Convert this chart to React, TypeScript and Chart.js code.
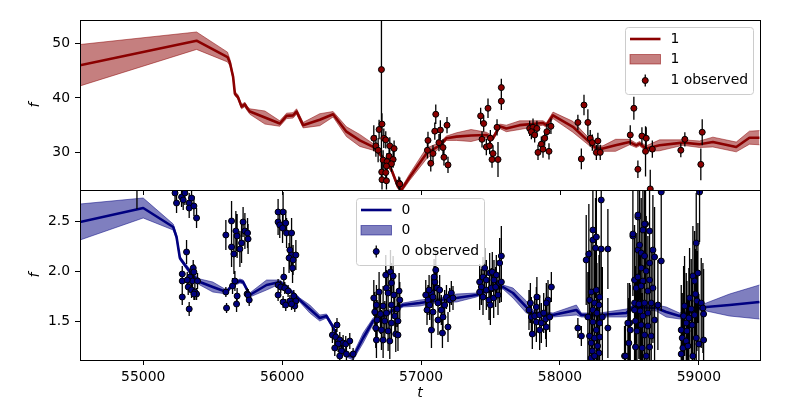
import { useEffect, useRef } from 'react';
import { Chart, registerables } from 'chart.js';

Chart.register(...registerables);

// ---------- axis ticks ----------
const X_TICKS = [55000, 56000, 57000, 58000, 59000];
const TOP_TICKS = [30, 40, 50];
const BOT_TICKS = [1.5, 2.0, 2.5];

// ---------- series "1" (top panel) model ----------
const redModelT = [54545, 55384, 55607, 55624, 55647, 55660, 55681, 55708, 55732, 55748,
  55768, 55876, 55983, 56032, 56079, 56104, 56151, 56271, 56367, 56463,
  56559, 56655, 56690, 56787, 56834, 56861, 56919, 57039, 57134, 57183,
  57255, 57360, 57470, 57518, 57566, 57614, 57710, 57878, 57902, 57950,
  58093, 58262, 58309, 58400, 58501, 58549, 58573, 58621, 58717, 58885,
  59005, 59101, 59269, 59364, 59436];
const redModelF = [46.0, 50.5, 47.5, 46.5, 43.9, 40.8, 40.2, 38.4, 38.8, 38.1,
  37.5, 36.4, 35.3, 36.7, 36.8, 37.5, 35.0, 36.0, 37.0, 33.8,
  32.2, 31.0, 30.2, 26.8, 23.7, 23.2, 25.5, 29.8, 31.3, 32.6,
  32.9, 33.1, 33.2, 32.6, 34.8, 34.4, 35.0, 35.4, 35.0, 36.8,
  34.7, 30.7, 30.7, 31.3, 31.9, 31.3, 31.6, 30.7, 31.3, 31.8,
  31.5, 31.9, 31.0, 32.7, 32.7];
const redModelW = [3.8, 1.6, 0.9, 0.6, 0.4, 0.4, 0.4, 0.4, 0.4, 0.4,
  0.5, 1.2, 0.5, 0.5, 0.5, 0.5, 0.5, 1.1, 0.5, 0.9,
  1.1, 0.6, 0.4, 0.4, 0.4, 0.4, 0.6, 1.0, 0.5, 0.4,
  0.7, 1.1, 0.5, 0.4, 0.4, 0.6, 0.8, 0.4, 0.4, 0.6,
  1.0, 0.5, 0.5, 1.1, 0.5, 0.4, 0.4, 0.5, 1.0, 0.5,
  0.6, 0.9, 0.9, 1.2, 1.3];

// observed [t, f, err]
const redObs: [number, number, number][] = [
  [56715, 45.2, 20], [56719, 35.2, 2.0], [56698, 34.2, 1.8], [56660, 32.6, 2.4], [56732, 32.6, 1.8],
  [56746, 32.3, 1.6], [56675, 31.2, 2.0], [56691, 30.4, 2.2], [56775, 31.2, 1.6], [56806, 30.7, 1.5],
  [56770, 29.3, 1.6], [56727, 28.6, 1.8], [56799, 28.7, 1.5], [56755, 28.3, 1.6], [56787, 27.9, 1.5],
  [56751, 27.5, 1.6], [56717, 26.4, 1.8], [56746, 26.3, 1.6], [56719, 25.0, 1.8], [56751, 24.8, 1.6],
  [56840, 24.4, 1.2], [56847, 24.2, 1.2], [57050, 32.2, 1.6], [57046, 30.4, 1.5], [57070, 28.0, 1.5],
  [57086, 29.8, 1.5], [57106, 37.0, 1.8], [57099, 33.9, 1.6], [57139, 34.1, 1.8], [57129, 31.8, 1.6],
  [57158, 30.9, 1.5], [57165, 29.1, 1.5], [57194, 27.7, 1.5], [57187, 35.0, 1.5], [57429, 36.7, 1.5],
  [57451, 35.3, 1.5], [57482, 38.1, 1.8], [57439, 32.4, 1.5], [57470, 31.0, 1.5], [57494, 31.2, 1.5],
  [57499, 32.6, 1.5], [57518, 29.8, 1.5], [57511, 28.7, 1.5], [57554, 28.7, 3.2], [57547, 34.6, 1.5],
  [57578, 39.4, 1.6], [57578, 41.9, 1.6], [57782, 34.4, 1.4], [57806, 34.6, 1.6], [57834, 34.4, 1.4],
  [57794, 33.8, 1.4], [57818, 33.2, 1.4], [57906, 33.8, 1.4], [57935, 34.8, 1.4], [57890, 32.6, 1.4],
  [57866, 31.5, 1.4], [57878, 30.6, 1.6], [57842, 30.0, 1.4], [57921, 30.2, 1.5], [58129, 35.5, 1.4],
  [58173, 38.7, 1.9], [58201, 35.5, 2.4], [58218, 32.6, 1.5], [58233, 31.8, 1.5], [58273, 32.1, 1.5],
  [58262, 30.0, 1.4], [58290, 30.0, 1.4], [58154, 28.8, 1.9], [58532, 38.1, 2.1], [58506, 33.2, 1.8],
  [58590, 33.0, 1.6], [58621, 32.6, 2.0], [58616, 30.2, 4.6], [58665, 30.6, 1.6], [58561, 26.9, 1.6],
  [58650, 23.3, 3.5], [58870, 30.4, 1.3], [58899, 32.4, 1.3], [59024, 33.7, 2.4], [59014, 27.8, 2.9],
];

// ---------- series "0" (bottom panel) model ----------
const blueModelT = [54545, 55000, 55216, 55240, 55264, 55300, 55360, 55408, 55501, 55600,
  55647, 55696, 55719, 55767, 55888, 55983, 56032, 56127, 56199, 56271,
  56319, 56367, 56415, 56463, 56511, 56583, 56655, 56870, 56991, 57134,
  57255, 57398, 57494, 57590, 57662, 57758, 57806, 57950, 58118, 58154,
  58286, 58478, 58525, 58693, 58765, 58861, 59005, 59053, 59221, 59436];
const blueModelF = [2.49, 2.63, 2.44, 2.34, 2.13, 2.06, 1.95, 1.89, 1.84, 1.79,
  1.87, 1.90, 1.89, 1.76, 1.86, 1.89, 1.84, 1.71, 1.62, 1.53,
  1.55, 1.44, 1.28, 1.16, 1.14, 1.33, 1.50, 1.66, 1.68, 1.71,
  1.73, 1.76, 1.81, 1.84, 1.78, 1.64, 1.58, 1.56, 1.61, 1.56,
  1.56, 1.58, 1.64, 1.63, 1.59, 1.55, 1.63, 1.64, 1.66, 1.69];
const blueModelW = [0.18, 0.10, 0.03, 0.02, 0.02, 0.02, 0.03, 0.03, 0.05, 0.02,
  0.02, 0.02, 0.02, 0.02, 0.05, 0.02, 0.02, 0.02, 0.04, 0.03,
  0.02, 0.02, 0.02, 0.02, 0.03, 0.05, 0.03, 0.02, 0.03, 0.02,
  0.04, 0.02, 0.02, 0.02, 0.05, 0.06, 0.03, 0.02, 0.05, 0.02,
  0.02, 0.04, 0.02, 0.03, 0.05, 0.03, 0.02, 0.04, 0.11, 0.17];

const blueObs: [number, number, number][] = [
  [54955, 2.9, 0.28],
  // ~55300
  [55229, 2.78, 0.1], [55240, 2.68, 0.1], [55276, 2.74, 0.1], [55288, 2.71, 0.1], [55300, 2.78, 0.12],
  [55331, 2.68, 0.1], [55331, 2.63, 0.1], [55365, 2.65, 0.1], [55384, 2.53, 0.1], [55348, 2.73, 0.1],
  [55312, 2.19, 0.12], [55281, 1.97, 0.08], [55281, 1.90, 0.08], [55281, 1.74, 0.08], [55331, 1.62, 0.07],
  [55360, 2.03, 0.08], [55365, 1.99, 0.08], [55336, 1.94, 0.08], [55355, 1.90, 0.08], [55391, 1.90, 0.08],
  [55324, 1.84, 0.08], [55348, 1.81, 0.08], [55372, 1.79, 0.08], [55384, 1.77, 0.06], [55365, 1.77, 0.06],
  [55317, 1.91, 0.08],
  // ~55650
  [55595, 2.36, 0.15], [55636, 2.50, 0.2], [55667, 2.40, 0.2], [55676, 2.35, 0.22], [55636, 2.24, 0.2],
  [55653, 2.17, 0.2], [55696, 2.22, 0.18], [55719, 2.49, 0.15], [55732, 2.40, 0.18], [55751, 2.38, 0.15],
  [55755, 2.32, 0.15], [55708, 2.28, 0.2], [55595, 1.79, 0.05], [55600, 1.63, 0.05], [55643, 1.85, 0.08],
  [55660, 1.90, 0.1], [55676, 1.75, 0.08], [55672, 1.67, 0.08], [55748, 1.77, 0.06], [55755, 1.76, 0.06],
  [55763, 1.71, 0.06],
  // ~56050
  [55971, 2.59, 0.13], [56007, 2.59, 0.2], [55971, 2.49, 0.13], [55983, 2.46, 0.13], [56026, 2.48, 0.13],
  [56003, 2.43, 0.15], [56032, 2.38, 0.15], [56068, 2.38, 0.15], [56056, 2.21, 0.17], [56068, 2.16, 0.17],
  [56099, 2.16, 0.15], [56050, 2.13, 0.15], [56079, 2.11, 0.15], [56075, 2.03, 0.15], [56012, 1.94, 0.1],
  [55971, 1.86, 0.06], [55990, 1.84, 0.06], [56019, 1.83, 0.06], [55971, 1.76, 0.06], [56043, 1.80, 0.06],
  [56007, 1.69, 0.06], [56026, 1.66, 0.06], [56056, 1.70, 0.06], [56084, 1.75, 0.06], [56099, 1.70, 0.06],
  [56091, 1.65, 0.06], [56068, 1.67, 0.06],
  // ~56450
  [56395, 1.46, 0.07], [56362, 1.36, 0.08], [56386, 1.34, 0.08], [56415, 1.31, 0.08], [56439, 1.28, 0.08],
  [56403, 1.27, 0.08], [56458, 1.27, 0.08], [56487, 1.30, 0.08], [56379, 1.23, 0.08], [56427, 1.20, 0.08],
  [56463, 1.17, 0.08], [56511, 1.17, 0.06], [56415, 1.15, 0.08],
  // ~56750
  [56746, 1.96, 0.2], [56780, 1.99, 0.22], [56799, 1.95, 0.2], [56787, 1.88, 0.2], [56751, 1.83, 0.18],
  [56660, 1.73, 0.18], [56698, 1.79, 0.2], [56763, 1.78, 0.2], [56804, 1.76, 0.2], [56842, 1.80, 0.18],
  [56847, 1.71, 0.18], [56679, 1.66, 0.2], [56727, 1.65, 0.2], [56787, 1.66, 0.2], [56828, 1.62, 0.18],
  [56667, 1.59, 0.2], [56708, 1.57, 0.2], [56751, 1.58, 0.2], [56811, 1.55, 0.2], [56684, 1.51, 0.2],
  [56739, 1.50, 0.2], [56787, 1.48, 0.2], [56834, 1.50, 0.18], [56674, 1.43, 0.2], [56715, 1.41, 0.2],
  [56763, 1.40, 0.2], [56818, 1.37, 0.18], [56679, 1.31, 0.18], [56727, 1.31, 0.18], [56775, 1.30, 0.18],
  [56834, 1.36, 0.16],
  // ~57100
  [57034, 1.76, 0.15], [57050, 1.71, 0.15], [57062, 1.66, 0.15], [57075, 1.78, 0.15], [57086, 1.74, 0.15],
  [57099, 1.89, 0.18], [57106, 2.01, 0.2], [57094, 1.94, 0.18], [57115, 1.83, 0.15], [57134, 1.81, 0.15],
  [57122, 1.68, 0.15], [57146, 1.61, 0.15], [57158, 1.54, 0.15], [57075, 1.41, 0.18], [57122, 1.51, 0.15],
  [57154, 1.38, 0.15], [57194, 1.44, 0.15], [57183, 1.74, 0.12], [57206, 1.71, 0.12], [57218, 1.78, 0.12],
  [57230, 1.73, 0.12], [57170, 1.66, 0.15], [57086, 1.59, 0.15], [57043, 1.61, 0.15], [57058, 1.81, 0.15],
  // ~57500
  [57422, 1.89, 0.18], [57446, 1.94, 0.2], [57458, 2.03, 0.2], [57494, 1.98, 0.2], [57513, 1.99, 0.2],
  [57566, 2.08, 0.25], [57578, 2.15, 0.3], [57542, 1.96, 0.2], [57434, 1.84, 0.18], [57470, 1.81, 0.2],
  [57506, 1.83, 0.2], [57537, 1.84, 0.2], [57566, 1.88, 0.2], [57578, 1.89, 0.2], [57446, 1.74, 0.18],
  [57489, 1.71, 0.2], [57523, 1.73, 0.2], [57554, 1.76, 0.2], [57470, 1.91, 0.2], [57525, 1.91, 0.2],
  [57422, 1.79, 0.18], [57499, 1.66, 0.2],
  // ~57850
  [57938, 1.84, 0.15], [57914, 1.71, 0.2], [57902, 1.68, 0.2], [57834, 1.74, 0.2], [57830, 1.64, 0.2],
  [57787, 1.68, 0.2], [57794, 1.54, 0.2], [57818, 1.55, 0.2], [57854, 1.56, 0.2], [57883, 1.58, 0.2],
  [57830, 1.49, 0.2], [57866, 1.48, 0.2], [57897, 1.52, 0.2], [57801, 1.37, 0.15], [57854, 1.41, 0.2],
  [57902, 1.44, 0.2], [57777, 1.61, 0.2], [57926, 1.54, 0.15],
  // ~58250
  [58129, 1.43, 0.1], [58154, 1.35, 0.1], [58208, 2.17, 0.5], [58237, 2.31, 0.5], [58262, 2.34, 0.5],
  [58297, 2.71, 0.5], [58237, 2.41, 0.5], [58256, 2.23, 0.5], [58297, 2.22, 0.45], [58345, 2.22, 0.4],
  [58189, 2.11, 0.45], [58225, 1.79, 0.5], [58262, 1.81, 0.55], [58286, 1.74, 0.5], [58213, 1.71, 0.5],
  [58249, 1.68, 0.55], [58281, 1.66, 0.5], [58237, 1.61, 0.55], [58266, 1.58, 0.5], [58305, 1.54, 0.5],
  [58201, 1.54, 0.45], [58237, 1.49, 0.5], [58286, 1.48, 0.5], [58345, 1.43, 0.3], [58262, 1.41, 0.5],
  [58213, 1.35, 0.5], [58249, 1.33, 0.55], [58286, 1.34, 0.5], [58225, 1.28, 0.5], [58271, 1.25, 0.5],
  [58233, 1.20, 0.5], [58281, 1.18, 0.5], [58225, 1.13, 0.5], [58249, 1.15, 0.5],
  // ~58600
  [58525, 2.35, 0.6], [58561, 2.54, 0.6], [58597, 2.41, 0.6], [58616, 2.47, 0.6], [58645, 2.40, 0.6],
  [58729, 2.79, 0.5], [58729, 2.10, 0.5], [58561, 2.21, 0.55], [58573, 2.26, 0.55], [58585, 2.18, 0.55],
  [58609, 2.15, 0.55], [58645, 2.08, 0.55], [58669, 2.21, 0.55], [58681, 2.14, 0.5], [58585, 2.03, 0.55],
  [58621, 2.00, 0.55], [58537, 1.91, 0.55], [58561, 1.94, 0.55], [58597, 1.90, 0.55], [58645, 1.91, 0.55],
  [58549, 1.83, 0.55], [58585, 1.85, 0.55], [58633, 1.80, 0.55], [58669, 1.83, 0.55], [58537, 1.68, 0.55],
  [58568, 1.67, 0.55], [58609, 1.68, 0.55], [58657, 1.68, 0.55], [58705, 1.66, 0.45], [58537, 1.61, 0.55],
  [58578, 1.60, 0.55], [58633, 1.58, 0.55], [58597, 1.55, 0.55], [58681, 1.51, 0.5], [58501, 1.48, 0.4],
  [58544, 1.50, 0.55], [58585, 1.46, 0.55], [58633, 1.45, 0.55], [58506, 1.41, 0.45], [58554, 1.40, 0.55],
  [58609, 1.36, 0.55], [58657, 1.35, 0.55], [58496, 1.28, 0.45], [58544, 1.24, 0.55], [58592, 1.23, 0.55],
  [58645, 1.24, 0.55], [58465, 1.15, 0.3], [58621, 1.15, 0.55], [58489, 1.48, 0.4], [58472, 1.15, 0.35],
  [58525, 2.37, 0.6], [58561, 2.56, 0.6], [58609, 2.47, 0.6],
  // ~58970
  [58981, 2.28, 0.5], [59005, 2.79, 0.5], [58957, 1.95, 0.5], [58993, 1.98, 0.5], [58969, 1.90, 0.5],
  [58976, 1.77, 0.45], [58933, 1.73, 0.5], [58986, 1.70, 0.5], [59017, 1.68, 0.45], [59029, 1.63, 0.45],
  [58897, 1.65, 0.5], [58945, 1.62, 0.5], [59034, 1.57, 0.45], [58890, 1.55, 0.5], [58928, 1.53, 0.5],
  [58969, 1.56, 0.5], [58909, 1.48, 0.5], [58952, 1.46, 0.5], [58873, 1.41, 0.45], [58914, 1.40, 0.5],
  [58880, 1.33, 0.45], [58981, 1.33, 0.5], [59034, 1.31, 0.4], [58909, 1.30, 0.5], [59000, 1.27, 0.5],
  [58885, 1.23, 0.45], [58921, 1.25, 0.5], [58873, 1.17, 0.45], [58957, 1.15, 0.5],
];

const X_MIN = 54545;
const X_MAX = 59440;

const RED = '#8b0000';
const RED_BAND = 'rgba(139,0,0,0.5)';
const BLUE = '#000080';
const BLUE_BAND = 'rgba(0,0,128,0.5)';
const FONT = 'DejaVu Sans';
const FS = 13.9;

function bandData(t: number[], f: number[], w: number[], sign: number) {
  return t.map((x, i) => ({ x, y: f[i] + sign * w[i] }));
}
function lineData(t: number[], f: number[]) {
  return t.map((x, i) => ({ x, y: f[i] }));
}
function errData(obs: [number, number, number][]) {
  const out: { x: number; y: number | null }[] = [];
  for (const [x, y, e] of obs) {
    out.push({ x, y: y - e }, { x, y: y + e }, { x, y: null });
  }
  return out;
}
function ptData(obs: [number, number, number][]) {
  return obs.map(([x, y]) => ({ x, y }));
}

function makeSeries(
  yAxisID: string, color: string, band: string,
  t: number[], f: number[], w: number[], obs: [number, number, number][],
) {
  return [
    { type: 'line', yAxisID, data: bandData(t, f, w, 1), fill: '+1', backgroundColor: band,
      borderColor: band, borderWidth: 1, pointRadius: 0, order: 4, clip: 0 },
    { type: 'line', yAxisID, data: bandData(t, f, w, -1), fill: false,
      borderColor: band, borderWidth: 1, pointRadius: 0, order: 4, clip: 0 },
    { type: 'line', yAxisID, data: lineData(t, f), fill: false, borderColor: color,
      borderWidth: 2.6, pointRadius: 0, order: 3, clip: 0, borderJoinStyle: 'round' },
    { type: 'line', yAxisID, data: errData(obs), fill: false, borderColor: '#000',
      borderWidth: 1.3, pointRadius: 0, spanGaps: false, order: 2, clip: 0 },
    { type: 'line', yAxisID, data: ptData(obs), showLine: false, pointRadius: 3,
      pointBackgroundColor: color, pointBorderColor: '#000', pointBorderWidth: 1, order: 1, clip: 0 },
  ];
}

function drawLegend(ctx: CanvasRenderingContext2D, left: number, top: number,
  color: string, band: string, label: string) {
  const w = 128, h = 67;
  ctx.save();
  ctx.beginPath();
  (ctx as any).roundRect(left + 0.5, top + 0.5, w, h, 3);
  ctx.fillStyle = 'rgba(255,255,255,0.8)';
  ctx.fill();
  ctx.strokeStyle = '#cccccc';
  ctx.lineWidth = 1;
  ctx.stroke();
  const sx = left + 5, ex = left + 35.5, tx = left + 45.5;
  // line
  ctx.beginPath();
  ctx.moveTo(sx, top + 12);
  ctx.lineTo(ex, top + 12);
  ctx.strokeStyle = color;
  ctx.lineWidth = 2.6;
  ctx.stroke();
  // patch
  ctx.fillStyle = band;
  ctx.fillRect(sx, top + 27.5, ex - sx, 9.5);
  ctx.strokeStyle = band;
  ctx.lineWidth = 1;
  ctx.strokeRect(sx, top + 27.5, ex - sx, 9.5);
  // marker
  const mx = (sx + ex) / 2, my = top + 53.5;
  ctx.beginPath();
  ctx.moveTo(mx, my - 6);
  ctx.lineTo(mx, my + 6);
  ctx.strokeStyle = '#000';
  ctx.lineWidth = 1.3;
  ctx.stroke();
  ctx.beginPath();
  ctx.arc(mx, my, 3, 0, Math.PI * 2);
  ctx.fillStyle = color;
  ctx.fill();
  ctx.lineWidth = 1;
  ctx.stroke();
  // text
  ctx.fillStyle = '#000';
  ctx.font = `${FS}px "${FONT}"`;
  ctx.textBaseline = 'middle';
  ctx.textAlign = 'left';
  ctx.fillText(label, tx, top + 12);
  ctx.fillText(label, tx, top + 32.5);
  ctx.fillText(`${label} observed`, tx, top + 53.5);
  ctx.restore();
}

const panelPlugin = {
  id: 'panels',
  afterDatasetsDraw(chart: any) {
    const { ctx } = chart;
    const x = chart.scales.x, yt = chart.scales.yTop, yb = chart.scales.yBot;
    ctx.save();
    ctx.strokeStyle = '#000';
    ctx.lineWidth = 1;
    for (const y of [yt, yb]) {
      ctx.strokeRect(Math.round(x.left) + 0.5, Math.round(y.top) + 0.5,
        Math.round(x.right - x.left), Math.round(y.bottom - y.top));
    }
    ctx.beginPath();
    for (const v of X_TICKS) {
      const p = Math.round(x.getPixelForValue(v)) + 0.5;
      ctx.moveTo(p, Math.round(yt.bottom));
      ctx.lineTo(p, Math.round(yt.bottom) + 5);
    }
    ctx.stroke();
    ctx.restore();
  },
  afterDraw(chart: any) {
    const { ctx } = chart;
    const x = chart.scales.x, yt = chart.scales.yTop, yb = chart.scales.yBot;
    drawLegend(ctx, Math.round(x.right) - 7 - 128, Math.round(yt.top) + 7, RED, RED_BAND, '1');
    drawLegend(ctx, Math.round((x.left + x.right) / 2 - 64), Math.round(yb.top) + 8, BLUE, BLUE_BAND, '0');
  },
};

const tickFont = { family: FONT, size: FS };
const titleFont = { family: FONT, size: 14, style: 'italic' as const };

function yScale(min: number, max: number, ticks: number[], fmt: (v: number) => string) {
  return {
    type: 'linear',
    position: 'left',
    stack: 'f',
    stackWeight: 1,
    min, max,
    afterBuildTicks: (s: any) => { s.ticks = ticks.map((v) => ({ value: v })); },
    afterFit: (s: any) => { s.width = 80; },
    ticks: { color: '#000', font: tickFont, padding: 5, callback: (v: any) => fmt(Number(v)) },
    grid: { drawOnChartArea: false, drawTicks: true, tickLength: 5, tickWidth: 1, tickColor: '#000' },
    border: { display: false },
    title: { display: true, text: 'f', color: '#000', font: titleFont, padding: { top: 27, bottom: 0 } },
  };
}

export default function App() {
  const ref = useRef<HTMLCanvasElement | null>(null);
  useEffect(() => {
    if (!ref.current) return;
    const chart = new Chart(ref.current, {
      type: 'line',
      data: {
        datasets: [
          ...makeSeries('yTop', RED, RED_BAND, redModelT, redModelF, redModelW, redObs),
          ...makeSeries('yBot', BLUE, BLUE_BAND, blueModelT, blueModelF, blueModelW, blueObs),
        ] as any,
      },
      options: {
        responsive: false,
        animation: false,
        devicePixelRatio: 1,
        events: [],
        layout: { padding: { top: 20, right: 40, left: 0, bottom: 0 } },
        plugins: { legend: { display: false }, tooltip: { enabled: false } },
        scales: {
          x: {
            type: 'linear',
            min: X_MIN, max: X_MAX,
            afterBuildTicks: (s: any) => { s.ticks = X_TICKS.map((v) => ({ value: v })); },
            afterFit: (s: any) => { s.height = 40; },
            ticks: { color: '#000', font: tickFont, padding: 4, maxRotation: 0, callback: (v: any) => String(v) },
            grid: { drawOnChartArea: false, drawTicks: true, tickLength: 5, tickWidth: 1, tickColor: '#000' },
            border: { display: false },
            title: { display: true, text: 't', color: '#000', font: { ...titleFont, lineHeight: 1 }, padding: { top: 0, bottom: 0 } },
          },
          // in a stack, the axis declared later is placed above
          yBot: yScale(1.11, 2.81, BOT_TICKS, (v) => v.toFixed(1)),
          yTop: yScale(23.1, 54.3, TOP_TICKS, (v) => String(v)),
        } as any,
      },
      plugins: [panelPlugin],
    });
    return () => chart.destroy();
  }, []);
  return (
    <div style={{ position: 'fixed', left: 0, top: 0, width: 800, height: 400, background: '#fff' }}>
      <canvas ref={ref} width={800} height={400} />
    </div>
  );
}
